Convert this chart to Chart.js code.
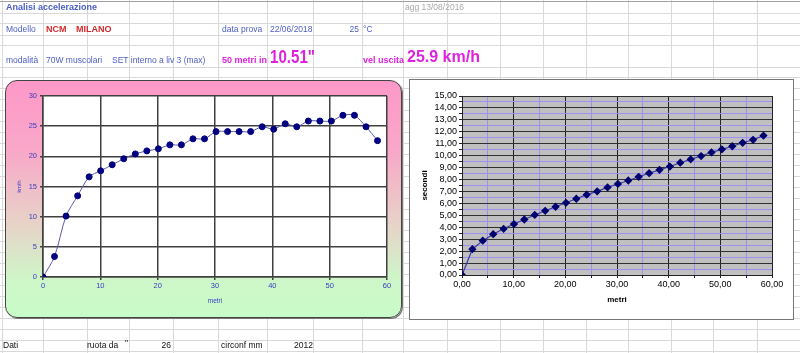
<!DOCTYPE html>
<html><head><meta charset="utf-8">
<script src="https://cdn.jsdelivr.net/npm/chart.js@4/dist/chart.umd.min.js"></script>
<style>
html,body{margin:0;padding:0;background:#fff;}
body{width:800px;height:353px;position:relative;overflow:hidden;font-family:"Liberation Sans",Arial,sans-serif;}
#bg{position:absolute;left:0;top:0;}
.t{position:absolute;white-space:nowrap;font-size:8.5px;line-height:10px;height:10px;color:#4b5ec4;}
.b{font-weight:bold;}
.red{color:#d22a2a;font-weight:bold;font-size:9px;}
.mag{color:#dd22dd;font-weight:bold;}
.blk{color:#111;}
#panelL{position:absolute;left:5px;top:80px;width:395px;height:236px;border:1px solid #444;border-radius:12px;
  background:linear-gradient(to bottom,#fd98c8 0%,#f8a8c8 30%,#e8d2c8 60%,#cdf7c8 85%,#c8fcc8 100%);box-shadow:1px 1px 0 #777;}
#panelR{position:absolute;left:409px;top:79px;width:383px;height:239px;border:1px solid #777;background:#fff;}
#cL{position:absolute;left:5px;top:80px;}
#cR{position:absolute;left:409px;top:79px;}
</style></head>
<body>
<canvas id="bg" width="800" height="353"></canvas>
<div class="t b" style="left:6px;top:2px;font-size:9px;">Analisi accelerazione</div>
<div class="t" style="left:405px;top:2px;color:#a8a8a8;">agg 13/08/2016</div>
<div class="t" style="left:6px;top:24px;">Modello</div>
<div class="t red" style="left:46px;top:24px;">NCM</div>
<div class="t red" style="left:76px;top:24px;">MILANO</div>
<div class="t" style="left:222px;top:24px;">data prova</div>
<div class="t" style="left:270px;top:24px;">22/06/2018</div>
<div class="t" style="right:441px;top:24px;">25</div>
<div class="t" style="left:363px;top:24px;">°C</div>
<div class="t" style="left:6px;top:55px;">modalità</div>
<div class="t" style="left:46px;top:55px;">70W muscolari</div>
<div class="t" style="left:112px;top:55px;">SET interno a liv 3 (max)</div>
<div class="t mag" style="left:222px;top:55px;font-size:9px;">50 metri in</div>
<div class="t mag" style="left:270px;top:47px;font-size:18px;line-height:20px;height:20px;transform:scaleX(0.84);transform-origin:left center;">10.51"</div>
<div class="t mag" style="left:363px;top:55px;font-size:9px;">vel uscita</div>
<div class="t mag" style="left:407px;top:48px;font-size:16px;line-height:18px;height:18px;">25.9 km/h</div>
<div class="t blk" style="left:3px;top:340px;">Dati</div>
<div class="t blk" style="left:87px;top:340px;">ruota da</div>
<div class="t blk" style="left:125px;top:338px;">"</div>
<div class="t blk" style="right:629px;top:340px;">26</div>
<div class="t blk" style="left:221px;top:340px;">circonf mm</div>
<div class="t blk" style="right:487px;top:340px;">2012</div>
<div id="panelL"></div>
<div id="panelR"></div>
<canvas id="cL" width="397" height="238"></canvas>
<canvas id="cR" width="384" height="240"></canvas>
<script>
// ---- data ----
const metri = [0, 2.01, 4.02, 6.04, 8.05, 10.06, 12.07, 14.08, 16.10, 18.11, 20.12, 22.13, 24.14, 26.16, 28.17, 30.18, 32.19, 34.20, 36.22, 38.23, 40.24, 42.25, 44.26, 46.28, 48.29, 50.30, 52.31, 54.32, 56.34, 58.35];
const kmh = [0, 3.4, 10.1, 13.45, 16.6, 17.6, 18.6, 19.6, 20.4, 20.9, 21.25, 21.9, 21.9, 22.9, 22.9, 24.1, 24.1, 24.1, 24.1, 24.9, 24.5, 25.4, 24.9, 25.85, 25.85, 25.85, 26.8, 26.8, 24.9, 22.6];
const secondi = [0, 2.16, 2.88, 3.42, 3.87, 4.27, 4.65, 5.03, 5.38, 5.72, 6.05, 6.39, 6.73, 7.01, 7.34, 7.63, 7.92, 8.23, 8.53, 8.81, 9.09, 9.41, 9.69, 9.97, 10.27, 10.53, 10.79, 11.08, 11.33, 11.68];
const leftXTicks = [0, 10, 20, 30, 40, 50, 60];
const leftYTicks = [0, 5, 10, 15, 20, 25, 30];
const rightXTicks = [0, 5, 10, 15, 20, 25, 30, 35, 40, 45, 50, 55, 60];
const rightYTicks = [0, 0.5, 1, 1.5, 2, 2.5, 3, 3.5, 4, 4.5, 5, 5.5, 6, 6.5, 7, 7.5, 8, 8.5, 9, 9.5, 10, 10.5, 11, 11.5, 12, 12.5, 13, 13.5, 14, 14.5, 15];

// ---- spreadsheet background grid ----
(function(){
  const c = document.getElementById('bg').getContext('2d');
  c.strokeStyle = '#d9d9d9'; c.lineWidth = 1;
  const cols = [2,43,87,129,173,218,267,313,362,403,447,500,543,586,628,671,713,757];
  cols.forEach(x => { c.beginPath(); c.moveTo(x+0.5, 0); c.lineTo(x+0.5, 353); c.stroke(); });
  const rows = [13,23,35,45,67];
  for (let k = 0; k <= 25; k++) rows.push(Math.round(77 + k*10.96));
  rows.forEach(y => { c.beginPath(); c.moveTo(0, y+0.5); c.lineTo(800, y+0.5); c.stroke(); });
  c.strokeStyle = '#a0a0a0'; c.beginPath(); c.moveTo(0, 1.5); c.lineTo(800, 1.5); c.stroke();
})();

const plotBg = {id:'plotBg', beforeDraw(ch, a, o){ const {ctx, chartArea:r} = ch; ctx.save(); ctx.fillStyle = o.color; ctx.fillRect(r.left, r.top, r.right-r.left, r.bottom-r.top); ctx.restore(); }};
const FONT = '"Liberation Sans", Arial, sans-serif';
const fmt = v => v.toFixed(2).replace('.', ',');
const isMajor = (v, step) => Math.abs(v / step - Math.round(v / step)) < 1e-6;
const MINOR = '#a08ef0';

// ---- left chart: km/h ----
new Chart(document.getElementById('cL'), {
  type: 'line',
  data: { datasets: [{ data: metri.map((m,i)=>({x:m, y:kmh[i]})), borderColor:'#5a5aaa', borderWidth:1,
    pointRadius:3, pointBackgroundColor:'#000080', pointBorderColor:'#000080', tension:0.3 }] },
  options: { responsive:false, animation:false, devicePixelRatio:1,
    layout:{padding:{left:0, right:15, top:16, bottom:0}},
    plugins:{legend:{display:false}, tooltip:{enabled:false}, plotBg:{color:'#ffffff'}},
    scales:{
      x:{type:'linear', min:0, max:60, afterFit:s=>{s.height=41;},
        afterBuildTicks:s=>{s.ticks = leftXTicks.map(v=>({value:v}));},
        ticks:{color:'#3a3ac0', font:{family:FONT, size:7.5}, padding:1, maxRotation:0},
        grid:{color:'#404040', lineWidth:1.5, tickLength:3},
        border:{color:'#404040', width:1.5},
        title:{display:true, text:'metri', color:'#3a3ac0', font:{family:FONT, size:6.5}, padding:{top:0, bottom:13}}},
      y:{min:0, max:30, afterFit:s=>{s.width=38;},
        afterBuildTicks:s=>{s.ticks = leftYTicks.map(v=>({value:v}));},
        ticks:{color:'#3a3ac0', font:{family:FONT, size:7.5}, padding:3},
        grid:{color:'#404040', lineWidth:1.5, tickLength:3},
        border:{color:'#404040', width:1.5},
        title:{display:true, text:'km/h', color:'#3a3ac0', font:{family:FONT, size:5.5}, padding:{top:11, bottom:0}}}
    } },
  plugins:[plotBg]
});

// ---- right chart: secondi ----
new Chart(document.getElementById('cR'), {
  type: 'line',
  data: { datasets: [{ data: metri.map((m,i)=>({x:m, y:secondi[i]})), borderColor:'#3a3aa0', borderWidth:1.2,
    pointStyle:'rectRot', pointRadius:3.3, pointBackgroundColor:'#000070', pointBorderColor:'#000070', tension:0 }] },
  options: { responsive:false, animation:false, devicePixelRatio:1,
    layout:{padding:{left:0, right:21, top:17, bottom:0}},
    plugins:{legend:{display:false}, tooltip:{enabled:false}, plotBg:{color:'#c0c0c0'}},
    scales:{
      x:{type:'linear', min:0, max:60, afterFit:s=>{s.height=44;},
        afterBuildTicks:s=>{s.ticks = rightXTicks.map(v=>({value:v}));},
        ticks:{autoSkip:false, maxRotation:0, color:'#000', font:{family:FONT, size:9}, padding:1,
          callback:v => (isMajor(v, 10) ? fmt(v) : '')},
        grid:{color:c => (c.tick && isMajor(c.tick.value, 10) ? '#222222' : MINOR), lineWidth:1, tickLength:3,
          tickColor:'#222222'},
        border:{color:'#222222'},
        title:{display:true, text:'metri', color:'#000', font:{family:FONT, size:8, weight:'bold'}, padding:{top:0, bottom:14}}},
      y:{min:0, max:15, afterFit:s=>{s.width=53;},
        afterBuildTicks:s=>{s.ticks = rightYTicks.map(v=>({value:v}));},
        ticks:{autoSkip:false, color:'#000', font:{family:FONT, size:9}, padding:2,
          callback:v => (isMajor(v, 1) ? fmt(v) : '')},
        grid:{color:c => (c.tick && isMajor(c.tick.value, 1) ? '#303030' : MINOR), lineWidth:1, tickLength:3,
          tickColor:'#222222'},
        border:{color:'#222222'},
        title:{display:true, text:'secondi', color:'#000', font:{family:FONT, size:8, weight:'bold'}, padding:{top:11, bottom:0}}}
    } },
  plugins:[plotBg]
});
</script>
</body></html>
